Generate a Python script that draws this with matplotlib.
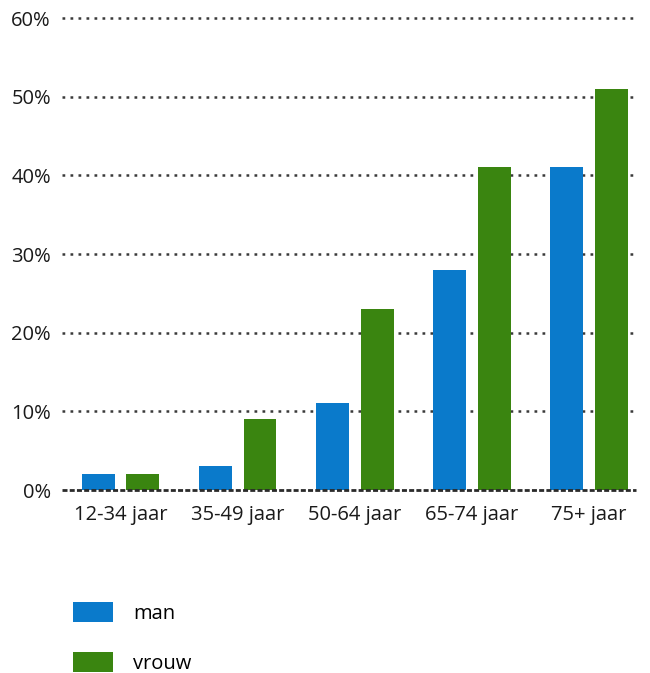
import matplotlib

matplotlib.use("Agg")
import matplotlib.pyplot as plt
import numpy as np

plt.rcParams["font.family"] = ["Open Sans", "DejaVu Sans"]

BLUE, GREEN = "#0a7acb", "#3a8510"

groups = ["12-34 jaar", "35-49 jaar", "50-64 jaar", "65-74 jaar", "75+ jaar"]
man = [2, 3, 11, 28, 41]
vrouw = [2, 9, 23, 41, 51]
yticks = [0, 10, 20, 30, 40, 50, 60]

fig = plt.figure(figsize=(6.5, 6.73), dpi=100)
ax = fig.add_axes([62 / 650, 1 - 490 / 673, 574 / 650, 472 / 673])

x = np.arange(len(groups))
w = 0.28
ax.bar(x - 0.19, man, width=w, color=BLUE, label="man", zorder=2)
ax.bar(x + 0.19, vrouw, width=w, color=GREEN, label="vrouw", zorder=2)

for t in yticks[1:]:
    ax.axhline(t, color="#3a3a3a", lw=1.8, ls=(0, (1.1, 2.1)), zorder=1, clip_on=False)
ax.axhline(0, color="#2a2a2a", lw=2.0, ls=(0, (1.8, 0.8)), zorder=3, clip_on=False)

ax.set_xlim(-0.5, len(groups) - 0.6)
ax.set_ylim(0, 60)
ax.set_yticks(yticks)
ax.set_yticklabels([f"{t}%" for t in yticks])
ax.set_xticks(x)
ax.set_xticklabels(groups)
ax.tick_params(axis="both", length=0, labelsize=14.5, colors="#1a1a1a")
ax.tick_params(axis="y", pad=8)
ax.tick_params(axis="x", pad=11)
for s in ax.spines.values():
    s.set_visible(False)

ax.legend(loc="upper left", bbox_to_anchor=(73 / 650, 1 - 602 / 673),
          bbox_transform=fig.transFigure, frameon=False, fontsize=14.5,
          handlelength=2.0, handleheight=1.15, labelspacing=1.4,
          handletextpad=1.0, borderaxespad=0, borderpad=0)

fig.savefig("out.png", dpi=100)
